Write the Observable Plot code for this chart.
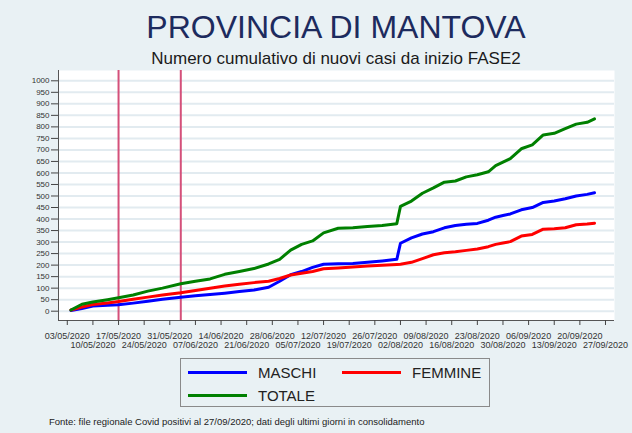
<!DOCTYPE html>
<html>
<head>
<meta charset="utf-8">
<script src="https://cdn.jsdelivr.net/npm/d3@7"></script>
<script src="https://cdn.jsdelivr.net/npm/@observablehq/plot@0.6"></script>
<style>
  html, body { margin: 0; padding: 0; }
  body { width: 632px; height: 433px; background: #e9f1f4; position: relative; overflow: hidden;
         font-family: "Liberation Sans", Arial, sans-serif; }
  #title { position: absolute; left: 36px; width: 600px; top: 11px; text-align: center;
           font-size: 32px; line-height: 32px; color: #1d2b5e; white-space: nowrap; }
  #subtitle { position: absolute; left: 36px; width: 600px; top: 50px; text-align: center;
              font-size: 17px; line-height: 17px; color: #1a1a1a; white-space: nowrap; }
  #chart { position: absolute; left: 0; top: 70px; }
  #legend { position: absolute; left: 180px; top: 358px; width: 310px; height: 49px;
            border: 1px solid #8a8a8a; box-sizing: border-box; }
  .item { position: absolute; font-size: 15px; line-height: 15px; color: #222; }
  .swatch { position: absolute; height: 3px; }
  #caption { position: absolute; left: 49px; top: 417px; font-size: 9.5px; line-height: 10px;
             color: #222; white-space: nowrap; }
</style>
</head>
<body>
<div id="title"></div>
<div id="subtitle"></div>
<div id="chart"></div>
<div id="legend"></div>
<div id="caption"></div>
<script>
// ---- data ----
const titleText = "PROVINCIA DI MANTOVA";
const subtitleText = "Numero cumulativo di nuovi casi da inizio FASE2";
const captionText = "Fonte: file regionale Covid positivi al 27/09/2020; dati degli ultimi giorni in consolidamento";

const seriesNames = ["MASCHI", "FEMMINE", "TOTALE"];
const seriesColors = ["#0000ff", "#ff0000", "#008000"];

const dates = ["2020-05-04","2020-05-07","2020-05-10","2020-05-14","2020-05-17","2020-05-21","2020-05-25","2020-05-29",
  "2020-06-03","2020-06-07","2020-06-11","2020-06-15","2020-06-19","2020-06-23","2020-06-27","2020-06-30",
  "2020-07-03","2020-07-06","2020-07-09","2020-07-12","2020-07-16","2020-07-20","2020-07-24","2020-07-28",
  "2020-08-01","2020-08-02","2020-08-05","2020-08-08","2020-08-11","2020-08-14","2020-08-17","2020-08-20",
  "2020-08-23","2020-08-26","2020-08-28","2020-08-30","2020-09-01","2020-09-04","2020-09-07","2020-09-10",
  "2020-09-13","2020-09-16","2020-09-19","2020-09-22","2020-09-24"];

const maschi = [3,12,22,26,28,35,43,52,61,67,72,78,85,92,104,130,158,172,190,204,206,207,212,218,225,
  295,318,335,345,362,372,377,381,395,408,415,422,440,450,472,478,488,500,507,514];
const femmine = [5,18,29,36,42,52,61,70,80,90,100,109,117,124,130,142,157,165,172,184,188,192,196,199,203,
  204,212,228,245,254,258,264,270,280,290,296,302,326,333,356,358,362,375,378,382];
const totale = [5,30,40,50,58,70,87,100,119,130,140,160,172,185,205,225,265,290,305,340,360,362,368,372,380,
  455,478,512,535,560,565,583,592,605,632,647,662,705,722,765,772,792,812,820,835];

const phaseDates = ["2020-05-17", "2020-06-03"];

const xTickLabels = ["03/05/2020","10/05/2020","17/05/2020","24/05/2020","31/05/2020","07/06/2020","14/06/2020",
  "21/06/2020","28/06/2020","05/07/2020","12/07/2020","19/07/2020","26/07/2020","02/08/2020","09/08/2020",
  "16/08/2020","23/08/2020","30/08/2020","06/09/2020","13/09/2020","20/09/2020","27/09/2020"];
const yTicks = [0,50,100,150,200,250,300,350,400,450,500,550,600,650,700,750,800,850,900,950,1000];

// ---- build ----
document.getElementById("title").textContent = titleText;
document.getElementById("subtitle").textContent = subtitleText;
document.getElementById("caption").textContent = captionText;

const parse = d3.utcParse("%Y-%m-%d");
const parseLabel = d3.utcParse("%d/%m/%Y");
const fmt = d3.utcFormat("%d/%m/%Y");
const seriesValues = [maschi, femmine, totale];
const rows = [];
seriesNames.forEach((name, i) => {
  dates.forEach((d, j) => rows.push({series: name, date: parse(d), value: seriesValues[i][j]}));
});
const xTicks = xTickLabels.map(parseLabel);
const rowA = xTicks.filter((d, i) => i % 2 === 0);
const rowB = xTicks.filter((d, i) => i % 2 === 1);
const DAY = 864e5;
const xDomain = [new Date(+xTicks[0] - 2.4 * DAY), new Date(+xTicks[xTicks.length - 1] + 2.46 * DAY)];
const yDomain = [-40.4, 1044.7];

const chart = Plot.plot({
  width: 632, height: 280,
  marginLeft: 58, marginRight: 18, marginTop: 0, marginBottom: 30,
  style: {background: "transparent", fontFamily: "'Liberation Sans', Arial, sans-serif", color: "#333"},
  x: {type: "utc", domain: xDomain, axis: null},
  y: {domain: yDomain, axis: null},
  marks: [
    Plot.frame({fill: "white", stroke: null}),
    Plot.gridY(yTicks, {stroke: "#e2ebf0", strokeOpacity: 1, strokeWidth: 2}),
    Plot.ruleX(phaseDates.map(parse), {stroke: "#d4507a", strokeWidth: 2}),
    ...seriesNames.map((name, i) => Plot.line(rows.filter(r => r.series === name), {
      x: "date", y: "value", stroke: seriesColors[i], strokeWidth: 3, strokeLinejoin: "round"
    })),
    Plot.ruleX([xDomain[0]], {stroke: "#555", strokeWidth: 1}),
    Plot.ruleY([yDomain[0]], {stroke: "#555", strokeWidth: 1}),
    Plot.axisY(yTicks, {tickSize: 7, tickPadding: 2, fontSize: 8, stroke: "#444", fill: "#333",
      tickFormat: d => String(d), label: null}),
    Plot.axisX(rowA, {tickSize: 5, tickPadding: 7, fontSize: 9, tickFormat: fmt, stroke: "#444", fill: "#333", label: null}),
    Plot.axisX(rowB, {tickSize: 5, tickPadding: 15.7, fontSize: 9, tickFormat: fmt, stroke: "#444", fill: "#333", label: null})
  ]
});
document.getElementById("chart").appendChild(chart);

// legend
const legend = document.getElementById("legend");
const legendPos = [[7, 13], [161, 13], [7, 36]];
seriesNames.forEach((name, i) => {
  const sw = document.createElement("div");
  sw.className = "swatch";
  sw.style.left = legendPos[i][0] + "px";
  sw.style.top = (legendPos[i][1] - 1.5) + "px";
  sw.style.width = "59px";
  sw.style.background = seriesColors[i];
  legend.appendChild(sw);
  const t = document.createElement("div");
  t.className = "item";
  t.textContent = name;
  t.style.left = (legendPos[i][0] + 70) + "px";
  t.style.top = (legendPos[i][1] - 7) + "px";
  legend.appendChild(t);
});
</script>
</body>
</html>
